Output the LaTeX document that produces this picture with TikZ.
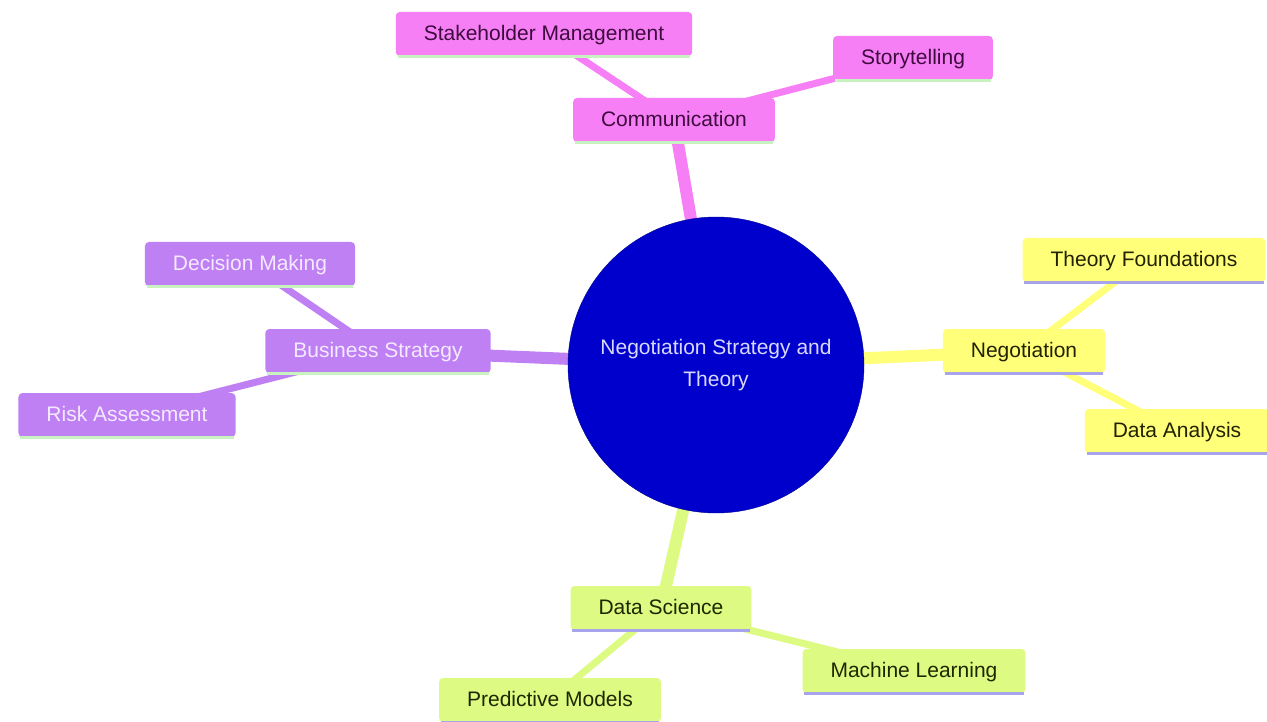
\documentclass[tikz,border=0pt]{standalone}
\usepackage{fontspec}
\setmainfont{Liberation Sans}
\usetikzlibrary{backgrounds}
\definecolor{pinkfill}{HTML}{F77FF5}
\definecolor{pinktext}{HTML}{3E0B3E}
\definecolor{yellowfill}{HTML}{FFFF7A}
\definecolor{yellowtext}{HTML}{222200}
\definecolor{greenfill}{HTML}{DDFA82}
\definecolor{greentext}{HTML}{1E2800}
\definecolor{purplefill}{HTML}{BF80F4}
\definecolor{purpletext}{HTML}{F4EAFF}
\definecolor{lineGreen}{HTML}{C8F2C0}
\definecolor{lineViolet}{HTML}{A8A4EC}
\definecolor{rootblue}{HTML}{0000CC}
\definecolor{roottext}{HTML}{D8D8FF}
\begin{document}
\begin{tikzpicture}[x=1pt, y=-1pt,
    every node/.style={font=\fontsize{21}{25}\selectfont},
    box/.style={rectangle, rounded corners=4pt, inner xsep=28pt, inner ysep=0pt,
        minimum height=44pt, text height=17pt, text depth=4pt},
    pinkbox/.style={box, fill=pinkfill, text=pinktext},
    yellowbox/.style={box, fill=yellowfill, text=yellowtext},
    greenbox/.style={box, fill=greenfill, text=greentext},
    purplebox/.style={box, fill=purplefill, text=purpletext},
    rootnode/.style={circle, fill=rootblue, draw=rootblue!70!black, thin,
        minimum size=296pt, inner sep=0pt, text=roottext, align=center,
        font=\fontsize{21}{32}\selectfont},
    trunk/.style={line width=12pt},
    twig/.style={line width=7pt},
    uline/.style={line width=3pt}]

    % 1. canvas
    \useasboundingbox (0,0) rectangle (1267,722);

    % 2. nodes
    \node[rootnode] (root) at (716,365) {Negotiation Strategy and\\Theory};

    % communication branch
    \node[pinkbox] (comm) at (674,120) {Communication};
    \node[pinkbox] (stake) at (544,34) {Stakeholder Management};
    \node[pinkbox] (story) at (913,58) {Storytelling};

    % negotiation branch
    \node[yellowbox] (nego) at (1024,351) {Negotiation};
    \node[yellowbox] (theory) at (1144,260) {Theory Foundations};
    \node[yellowbox] (dataan) at (1177,431) {Data Analysis};

    % data science branch
    \node[greenbox] (datasci) at (661,608) {Data Science};
    \node[greenbox] (ml) at (914,671) {Machine Learning};
    \node[greenbox] (pred) at (550,700) {Predictive Models};

    % business strategy branch
    \node[purplebox] (bus) at (378,351) {Business Strategy};
    \node[purplebox] (dec) at (250,264) {Decision Making};
    \node[purplebox] (risk) at (127,415) {Risk Assessment};

    % 3. underlines
    \foreach \n/\c in {comm/lineGreen, stake/lineGreen, story/lineGreen,
                       nego/lineViolet, theory/lineViolet, dataan/lineViolet,
                       datasci/lineViolet, ml/lineViolet, pred/lineViolet,
                       bus/lineGreen, dec/lineGreen, risk/lineGreen}
        \draw[uline, \c] ([xshift=2pt, yshift=-0.5pt]\n.south west) -- ([xshift=-2pt, yshift=-0.5pt]\n.south east);

    % 4. branches (behind the nodes)
    \begin{pgfonlayer}{background}
        \fill[white] (0,0) rectangle (1267,722);

        \draw[trunk, pinkfill] (root.center) -- (comm.center);
        \draw[twig, pinkfill] (comm.center) -- (stake.center);
        \draw[twig, pinkfill] (comm.center) -- (story.center);

        \draw[trunk, yellowfill] (root.center) -- (nego.center);
        \draw[twig, yellowfill] (nego.center) -- (theory.center);
        \draw[twig, yellowfill] (nego.center) -- (dataan.center);

        \draw[trunk, greenfill] (root.center) -- (datasci.center);
        \draw[twig, greenfill] (datasci.center) -- (ml.center);
        \draw[twig, greenfill] (datasci.center) -- (pred.center);

        \draw[trunk, purplefill] (root.center) -- (bus.center);
        \draw[twig, purplefill] (bus.center) -- (dec.center);
        \draw[twig, purplefill] (bus.center) -- (risk.center);
    \end{pgfonlayer}
\end{tikzpicture}
\end{document}
